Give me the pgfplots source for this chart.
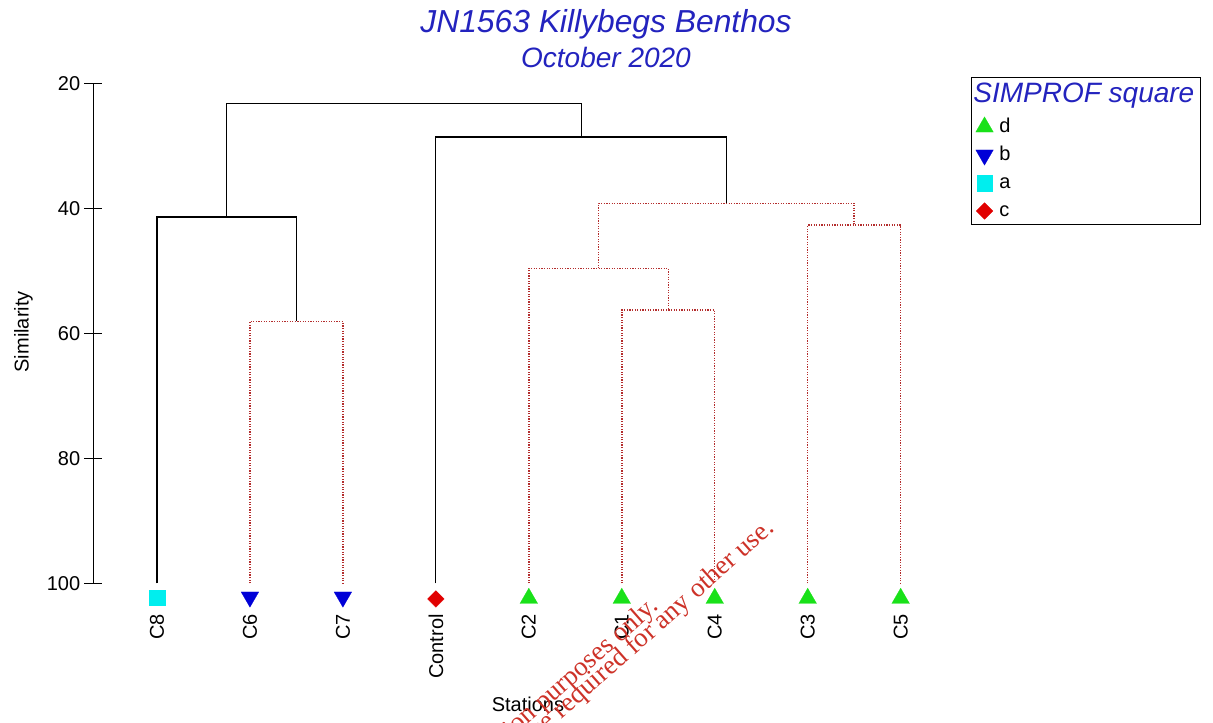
\documentclass[border=0pt]{standalone}
\usepackage{fontspec}
\setmainfont{Liberation Sans}
\newfontfamily\wmfont{Liberation Serif}
\usepackage{pgfplots}
\pgfplotsset{compat=1.18}

\definecolor{titleblue}{RGB}{35,35,190}
\definecolor{linkred}{RGB}{180,45,45}
\definecolor{mkgreen}{RGB}{25,225,25}
\definecolor{mkblue}{RGB}{0,0,215}
\definecolor{mkcyan}{RGB}{0,238,238}
\definecolor{mkred}{RGB}{225,0,0}
\definecolor{wmred}{RGB}{205,50,40}

\pgfplotsset{
  blk/.style={black, line width=0.6pt, forget plot},
  sig/.style={linkred, line width=0.75pt, dash pattern=on 0.6pt off 0.7pt, forget plot},
  mk/.style={only marks,
    legend image code/.code={\draw[##1] plot coordinates {(0pt,0pt)};}},
}

\begin{document}
\begin{tikzpicture}
\path[use as bounding box] (0,0) rectangle (606.5pt,-361pt);
\begin{axis}[
  at={(46.65pt,-291.65pt)}, anchor=south west,
  width=473.4pt, height=250pt, scale only axis,
  xmin=-0.685, xmax=9.5, ymin=20, ymax=100, y dir=reverse,
  clip=false,
  axis y line*=left, axis x line*=bottom,
  x axis line style={draw=none},
  y axis line style={black, line width=0.6pt},
  ytick={20,40,60,80,100},
  tick align=center, major tick length=9pt,
  ytick style={black, line width=0.6pt},
  xtick={0,...,8},
  xticklabels={C8,C6,C7,Control,C2,C1,C4,C3,C5},
  xtick style={draw=none},
  /pgf/number format/assume math mode=true,
  ticklabel style={font=\fontsize{10}{12}\selectfont},
  xticklabel style={rotate=90, anchor=east, xshift=-7.5pt},
  yticklabel style={anchor=east, xshift=1.5pt},
  xlabel={Stations}, ylabel={Similarity},
  label style={font=\fontsize{10}{12}\selectfont},
  xlabel style={at={(axis description cs:0.459,-0.2554)}, anchor=base},
  ylabel style={at={(axis description cs:-0.0737,0.503)}, anchor=center},
  legend style={at={(axis description cs:0.927,1.0126)}, anchor=north west,
    draw=black, line width=0.7pt, font=\fontsize{10}{12}\selectfont,
    inner xsep=2pt, inner ysep=1pt, row sep=2.3pt, column sep=2pt,
    nodes={inner sep=1pt, text height=7.5pt, text depth=2.2pt}},
  legend cell align=left,
]
% linkage tree: solid = significant split, dotted = no significant structure
\addplot[sig] coordinates {(1,100) (1,58.1) (2,58.1) (2,100)};
\addplot[blk] coordinates {(0,100) (0,41.4) (1.5,41.4) (1.5,58.1)};
\addplot[sig] coordinates {(5,100) (5,56.3) (6,56.3) (6,100)};
\addplot[sig] coordinates {(4,100) (4,49.6) (5.5,49.6) (5.5,56.3)};
\addplot[sig] coordinates {(7,100) (7,42.7) (8,42.7) (8,100)};
\addplot[sig] coordinates {(4.75,49.6) (4.75,39.2) (7.5,39.2) (7.5,42.7)};
\addplot[blk] coordinates {(3,100) (3,28.6) (6.125,28.6) (6.125,39.2)};
\addplot[blk] coordinates {(0.75,41.4) (0.75,23.2) (4.5625,23.2) (4.5625,28.6)};

\addlegendimage{empty legend}
\addlegendentry[text height=10.5pt, text depth=3pt]{\hspace*{-13pt}\textcolor{titleblue}{\fontsize{14}{16}\selectfont\itshape SIMPROF square}}

% SIMPROF groups
\addplot[mk, mark=triangle*, mark size=5.1pt, mark options={solid, fill=mkgreen, draw=mkgreen, line width=0.1pt}]
  coordinates {(4,102.4) (5,102.4) (6,102.4) (7,102.4) (8,102.4)};
\addlegendentry{d}
\addplot[mk, mark=triangle*, mark size=5.1pt, mark options={solid, rotate=180, fill=mkblue, draw=mkblue, line width=0.1pt}]
  coordinates {(1,102.2) (2,102.2)};
\addlegendentry{b}
\addplot[mk, mark=square*, mark size=3.9pt, mark options={solid, fill=mkcyan, draw=mkcyan, line width=0.1pt}]
  coordinates {(0,102.3)};
\addlegendentry{a}
\addplot[mk, mark=square*, mark size=2.95pt, mark options={solid, rotate=45, fill=mkred, draw=mkred, line width=0.1pt}]
  coordinates {(3,102.5)};
\addlegendentry{c}
\end{axis}

\node[anchor=base, inner sep=0pt, text=titleblue, font=\fontsize{15.9}{18}\selectfont\itshape]
  at (303pt,-16.5pt) {JN1563 Killybegs Benthos};
\node[anchor=base, inner sep=0pt, text=titleblue, font=\fontsize{14}{17}\selectfont\itshape]
  at (303pt,-33.75pt) {October 2020};

\node[rotate=41.5, anchor=base east, inner sep=0pt, text=wmred, font=\wmfont\fontsize{13.5}{15}\selectfont]
  at (330pt,-304pt) {For illustration purposes only.};
\node[rotate=41.5, anchor=base east, inner sep=0pt, text=wmred, font=\wmfont\fontsize{13.5}{15}\selectfont]
  at (388pt,-265pt) {Licence required for any other use.};
\end{tikzpicture}
\end{document}
